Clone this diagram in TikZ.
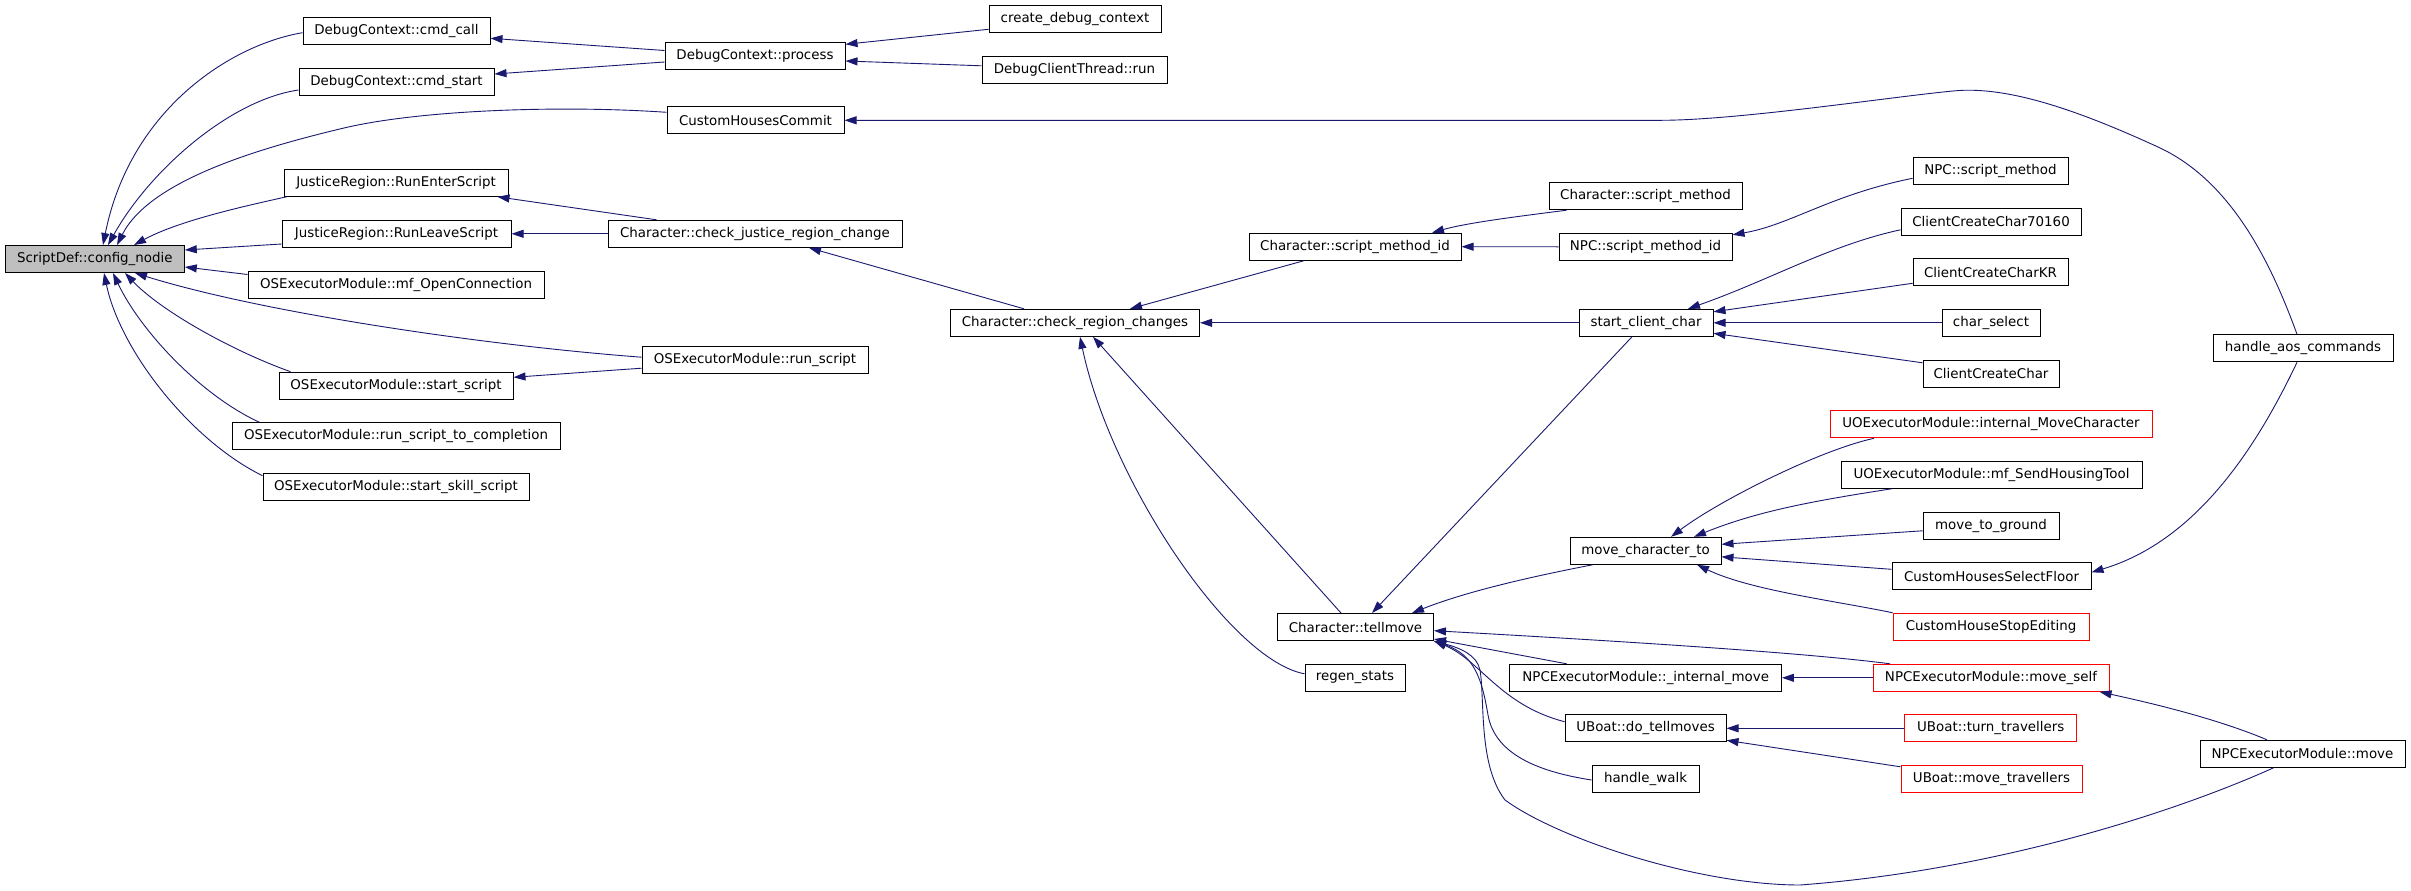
\documentclass[tikz,border=0pt]{standalone}
\usepackage{fontspec}
\setmainfont{DejaVu Sans}
\usetikzlibrary{calc,arrows.meta}
\definecolor{edgec}{RGB}{25,25,112}
\definecolor{rootfill}{RGB}{191,191,191}
\begin{document}
\begin{tikzpicture}[x=1pt,y=-1pt,
  fn/.style={draw=black,line width=1pt,inner sep=0pt,minimum height=27pt,font=\fontsize{13.4}{16}\selectfont},
  rd/.style={fn,draw=red},
  ed/.style={draw=edgec,line width=0.9pt,-{Triangle[length=12pt,width=8pt]}}]
\fill[white] (0,0) rectangle (2411,891);
\useasboundingbox (0,0) rectangle (2411,891);
% column 1
\node[fn,minimum width=179pt,fill=rootfill] (sd) at (94.8,259) {ScriptDef::config\_nodie};
% column 2
\node[fn,minimum width=187pt] (cmdcall) at (396.5,30.7) {DebugContext::cmd\_call};
\node[fn,minimum width=195pt] (cmdstart) at (396.5,81.8) {DebugContext::cmd\_start};
\node[fn,minimum width=224pt] (enter) at (396,182.8) {JusticeRegion::RunEnterScript};
\node[fn,minimum width=229pt] (leave) at (396.5,233.8) {JusticeRegion::RunLeaveScript};
\node[fn,minimum width=296pt] (openconn) at (396,284.5) {OSExecutorModule::mf\_OpenConnection};
\node[fn,minimum width=234pt] (startscript) at (396,385.7) {OSExecutorModule::start\_script};
\node[fn,minimum width=328pt] (completion) at (396,436.3) {OSExecutorModule::run\_script\_to\_completion};
\node[fn,minimum width=266pt] (skill) at (396,486.7) {OSExecutorModule::start\_skill\_script};
% column 3
\node[fn,minimum width=180pt] (process) at (755,56.3) {DebugContext::process};
\node[fn,minimum width=177pt] (chc) at (755.5,120.3) {CustomHousesCommit};
\node[fn,minimum width=294pt] (justice) at (755,233.8) {Character::check\_justice\_region\_change};
\node[fn,minimum width=226pt] (runscript) at (755,360.2) {OSExecutorModule::run\_script};
% column 4
\node[fn,minimum width=172pt] (createdbg) at (1075,18.8) {create\_debug\_context};
\node[fn,minimum width=185pt] (dbgthread) at (1074.5,69.8) {DebugClientThread::run};
\node[fn,minimum width=249pt] (checkregion) at (1075,322.8) {Character::check\_region\_changes};
% column 5
\node[fn,minimum width=212pt] (smid) at (1355,246.7) {Character::script\_method\_id};
\node[fn,minimum width=156pt] (tellmove) at (1355.5,627) {Character::tellmove};
\node[fn,minimum width=100pt] (regen) at (1355,677.8) {regen\_stats};
% column 6
\node[fn,minimum width=193pt] (charsm) at (1645.5,196.2) {Character::script\_method};
\node[fn,minimum width=173pt] (npcsmid) at (1645.5,246.8) {NPC::script\_method\_id};
\node[fn,minimum width=134pt] (startclient) at (1646,322.8) {start\_client\_char};
\node[fn,minimum width=151pt] (movechar) at (1645.5,550.8) {move\_character\_to};
\node[fn,minimum width=271.5pt] (internalmove) at (1645.7,677.8) {NPCExecutorModule::\_internal\_move};
\node[fn,minimum width=161pt] (dotell) at (1645.5,728.3) {UBoat::do\_tellmoves};
\node[fn,minimum width=107pt] (handlewalk) at (1645.5,778.8) {handle\_walk};
% column 7
\node[fn,minimum width=155pt] (npcsm) at (1990.5,170.8) {NPC::script\_method};
\node[fn,minimum width=180pt] (cc70160) at (1991,221.8) {ClientCreateChar70160};
\node[fn,minimum width=155pt] (cckr) at (1990.5,272.3) {ClientCreateCharKR};
\node[fn,minimum width=98pt] (charselect) at (1991,322.8) {char\_select};
\node[fn,minimum width=136pt] (clientcreate) at (1991,373.8) {ClientCreateChar};
\node[rd,minimum width=322pt] (intmovechar) at (1991,424.3) {UOExecutorModule::internal\_MoveCharacter};
\node[fn,minimum width=301pt] (sendhousing) at (1991.5,474.8) {UOExecutorModule::mf\_SendHousingTool};
\node[fn,minimum width=136pt] (movetoground) at (1991,525.8) {move\_to\_ground};
\node[fn,minimum width=199pt] (chsf) at (1991.5,576.3) {CustomHousesSelectFloor};
\node[rd,minimum width=196pt] (chse) at (1991,626.7) {CustomHouseStopEditing};
\node[rd,minimum width=236pt] (moveself) at (1991,677.8) {NPCExecutorModule::move\_self};
\node[rd,minimum width=171.5pt] (turntrav) at (1990.7,728.3) {UBoat::turn\_travellers};
\node[rd,minimum width=181pt] (movetrav) at (1991.5,778.8) {UBoat::move\_travellers};
% column 8
\node[fn,minimum width=180pt] (handleaos) at (2303,348.3) {handle\_aos\_commands};
\node[fn,minimum width=205pt] (npcmove) at (2302.5,753.8) {NPCExecutorModule::move};
% edges into ScriptDef::config_nodie
\draw[ed] ($(cmdcall.west)+(0,2)$) .. controls (230,45) and (130,110) .. ($(sd.north)+(8.2,0)$);
\draw[ed] ($(cmdstart.west)+(0,8.2)$) .. controls (230,100) and (150,170) .. ($(sd.north)+(13.2,0)$);
\draw[ed] ($(chc.west)+(0,-8)$) .. controls (560,105) and (420,110) .. (344,128) .. controls (260,148) and (150,180) .. ($(sd.north)+(22.2,0)$);
\draw[ed] ($(enter.south west)+(3,0)$) .. controls (250,205) and (180,220) .. ($(sd.north)+(39.2,0)$);
\draw[ed] ($(leave.west)+(0,10.2)$) -- ($(sd.east)+(0,-9)$);
\draw[ed] ($(openconn.west)+(0,-10)$) -- ($(sd.east)+(0,8)$);
\draw[ed] ($(runscript.west)+(0,-3)$) .. controls (480,345) and (260,312) .. ($(sd.south)+(40.2,0)$);
\draw[ed] ($(startscript.north west)+(12,0)$) .. controls (230,350) and (160,310) .. ($(sd.south)+(30.2,0)$);
\draw[ed] ($(completion.north west)+(28,0)$) .. controls (200,395) and (140,330) .. ($(sd.south)+(18.2,0)$);
\draw[ed] ($(skill.west)+(0,-11)$) .. controls (190,440) and (120,350) .. ($(sd.south)+(9.2,0)$);
% column 3 -> 2
\draw[ed] ($(process.west)+(0,-5.8)$) -- ($(cmdcall.east)+(0,7.6)$);
\draw[ed] ($(process.west)+(0,5.7)$) -- ($(cmdstart.east)+(0,-7.8)$);
\draw[ed] ($(justice.north west)+(49,0)$) -- ($(enter.south east)+(-11,0)$);
\draw[ed] (justice.west) -- (leave.east);
\draw[ed] ($(runscript.west)+(0,8)$) -- ($(startscript.east)+(0,-8.4)$);
% column 4 -> 3
\draw[ed] ($(createdbg.west)+(0,10.5)$) -- ($(process.east)+(0,-12)$);
\draw[ed] ($(dbgthread.west)+(0,-4)$) -- ($(process.east)+(0,4.7)$);
\draw[ed] ($(checkregion.north)+(-51,0)$) -- ($(justice.south)+(54,0)$);
% long edges from handle_aos_commands
\draw[ed] ($(handleaos.north)+(-6,0)$) .. controls (2270,260) and (2230,180) .. (2158,147) .. controls (2086,114) and (2010,85) .. (1953,91) .. controls (1890,97) and (1740,120) .. (1662,120.3) -- (chc.east);
\draw[ed] ($(handleaos.south)+(-6,0)$) .. controls (2260,440) and (2200,540) .. ($(chsf.east)+(0,-4)$);
% column 5 -> 4
\draw[ed] ($(smid.south)+(-51,0)$) -- ($(checkregion.north)+(55,0)$);
\draw[ed] (startclient.west) -- (checkregion.east);
\draw[ed] ($(tellmove.north)+(-14.5,0)$) -- ($(checkregion.south)+(18,0)$);
\draw[ed] ($(regen.west)+(0,-4)$) .. controls (1230,660) and (1110,480) .. ($(checkregion.south)+(5,0)$);
% column 6 -> 5
\draw[ed] ($(charsm.south west)+(18,0)$) .. controls (1530,215) and (1470,222) .. ($(smid.north)+(77,0)$);
\draw[ed] (npcsmid.west) -- (smid.east);
\draw[ed] ($(startclient.south)+(-14,0)$) -- ($(tellmove.north)+(16.5,0)$);
\draw[ed] ($(movechar.south west)+(23,0)$) .. controls (1540,575) and (1470,590) .. ($(tellmove.north)+(56.5,0)$);
\draw[ed] ($(internalmove.north)+(-79,0)$) -- ($(tellmove.east)+(0,12)$);
\draw[ed] ($(dotell.west)+(0,-6.6)$) .. controls (1500,705) and (1480,660) .. (tellmove.south east);
\draw[ed] ($(handlewalk.west)+(0,1.2)$) .. controls (1540,772) and (1495,755) .. (1488,715) .. controls (1482,680) and (1475,655) .. (tellmove.south east);
% column 7 -> 6
\draw[ed] ($(npcsm.west)+(0,7.5)$) .. controls (1830,195) and (1790,225) .. ($(npcsmid.east)+(0,-12)$);
\draw[ed] ($(cc70160.west)+(0,8)$) .. controls (1830,245) and (1770,280) .. ($(startclient.north)+(42,0)$);
\draw[ed] ($(cckr.west)+(0,11)$) -- ($(startclient.east)+(0,-11)$);
\draw[ed] (charselect.west) -- (startclient.east);
\draw[ed] ($(clientcreate.west)+(0,-11)$) -- ($(startclient.east)+(0,10.5)$);
\draw[ed] ($(intmovechar.south west)+(44.5,0)$) .. controls (1820,450) and (1720,500) .. ($(movechar.north)+(25.5,0)$);
\draw[ed] ($(sendhousing.south west)+(51,0)$) .. controls (1820,500) and (1760,510) .. ($(movechar.north)+(48.5,0)$);
\draw[ed] ($(movetoground.west)+(0,5)$) -- ($(movechar.east)+(0,-6.5)$);
\draw[ed] ($(chsf.west)+(0,-7)$) -- ($(movechar.east)+(0,6)$);
\draw[ed] (chse.north west) .. controls (1830,600) and (1750,590) .. ($(movechar.south)+(51.5,0)$);
\draw[ed] ($(moveself.north west)+(17.5,0)$) .. controls (1800,652) and (1600,640) .. ($(tellmove.east)+(0,3.7)$);
\draw[ed] (moveself.west) -- (internalmove.east);
\draw[ed] (turntrav.west) -- (dotell.east);
\draw[ed] ($(movetrav.west)+(0,-12)$) -- ($(dotell.east)+(0,12)$);
% column 8 -> others
\draw[ed] ($(npcmove.north)+(-35.5,0)$) .. controls (2220,720) and (2160,705) .. ($(moveself.south east)+(-10,0)$);
\draw[ed] ($(npcmove.south)+(-29,0)$) .. controls (2180,810) and (2000,870) .. (1800,885) .. controls (1700,885) and (1560,840) .. (1505,800) .. controls (1478,765) and (1485,700) .. (1480,670) .. controls (1477,655) and (1460,648) .. (tellmove.south east);
\end{tikzpicture}
\end{document}
